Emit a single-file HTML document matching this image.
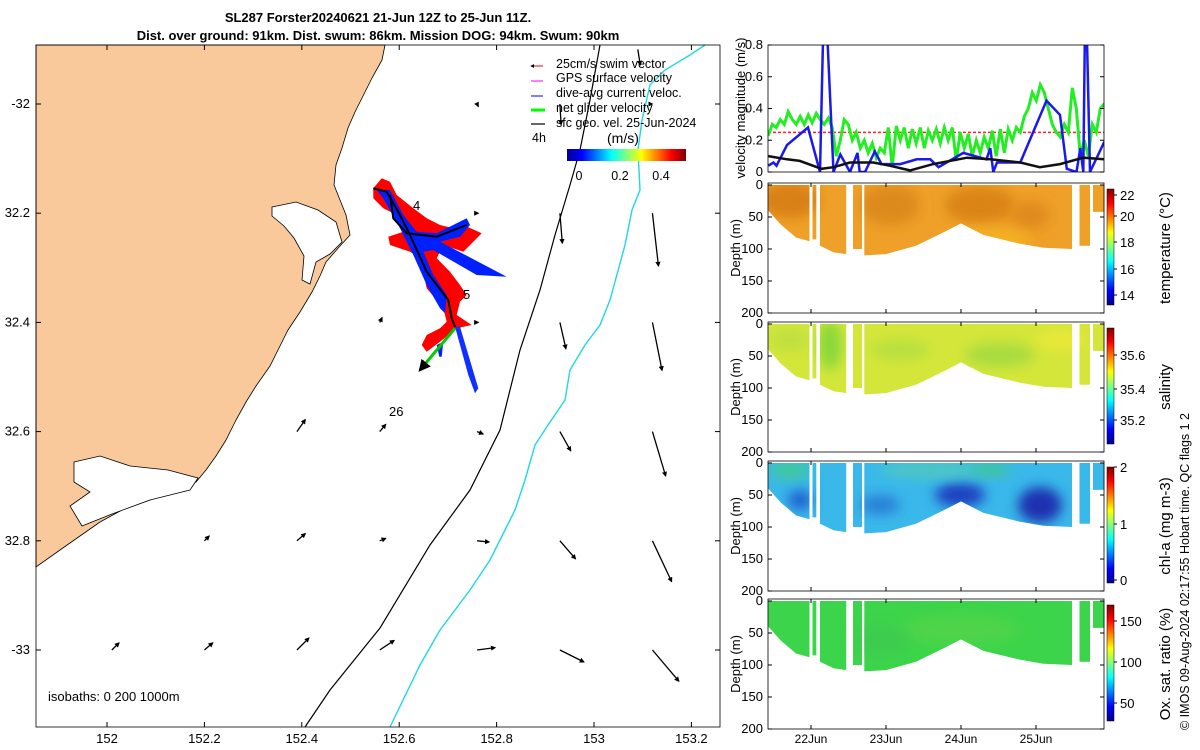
<!DOCTYPE html>
<html><head><meta charset="utf-8">
<style>
body{margin:0;background:#fff;}
svg{display:block;font-family:"Liberation Sans",sans-serif;}
</style></head>
<body>
<svg id="s" width="1200" height="750" viewBox="0 0 1200 750" xmlns="http://www.w3.org/2000/svg">
<defs>
<linearGradient id="jetH" x1="0" x2="1" y1="0" y2="0">
<stop offset="0" stop-color="#00008f"/><stop offset="0.125" stop-color="#0000ff"/><stop offset="0.375" stop-color="#00ffff"/><stop offset="0.5" stop-color="#80ff80"/><stop offset="0.625" stop-color="#ffff00"/><stop offset="0.875" stop-color="#ff0000"/><stop offset="1" stop-color="#800000"/>
</linearGradient>
<linearGradient id="jetV" x1="0" x2="0" y1="1" y2="0">
<stop offset="0" stop-color="#00008f"/><stop offset="0.125" stop-color="#0000ff"/><stop offset="0.375" stop-color="#00ffff"/><stop offset="0.5" stop-color="#80ff80"/><stop offset="0.625" stop-color="#ffff00"/><stop offset="0.875" stop-color="#ff0000"/><stop offset="1" stop-color="#800000"/>
</linearGradient>
<filter id="blur" x="-50%" y="-50%" width="200%" height="200%"><feGaussianBlur stdDeviation="6"/></filter>
<marker id="ah" viewBox="0 0 10 10" refX="8" refY="5" markerWidth="4" markerHeight="4" orient="auto"><path d="M0,0L10,5L0,10z" fill="#000"/></marker>
<clipPath id="mapclip"><rect x="36" y="45" width="684" height="682"/></clipPath>
</defs>

<text x="378" y="22" text-anchor="middle" font-size="13" font-weight="bold">SL287 Forster20240621 21-Jun 12Z to 25-Jun 11Z.</text>
<text x="378" y="40" text-anchor="middle" font-size="13" font-weight="bold">Dist. over ground: 91km. Dist. swum: 86km. Mission DOG: 94km. Swum: 90km</text>

<g id="map">
<rect x="36" y="45" width="684" height="682" fill="#fff"/>
<polygon fill="#f9c99b" stroke="#000" stroke-width="0.8" points="36,45 385,45 382,60 372,78 362,98 355,112 348,128 342,148 336,165 334,185 340,200 346,215 350,235 340,246 326,262 320,276 312,292 300,312 288,330 280,346 270,366 256,386 246,402 236,420 226,440 216,456 206,470 196,482 172,490 150,500 122,510 100,522 80,536 60,550 36,567"/>
<polygon fill="#fff" stroke="#000" stroke-width="0.8" points="272,207 296,202 318,210 336,222 342,242 330,254 316,262 310,284 302,280 304,256 294,238 284,226 272,216"/>
<polygon fill="#fff" stroke="#000" stroke-width="0.8" points="74,462 100,456 130,466 168,470 198,478 190,490 150,500 112,514 82,526 70,506 90,492 74,482"/>
<polyline fill="none" stroke="#000" stroke-width="1.2" points="305,727 330,690 380,628 430,545 470,490 500,430 520,350 540,290 555,235 570,185 580,150 590,100 600,45"/>
<polyline fill="none" stroke="#1fd8e0" stroke-width="1.4" points="390,727 420,665 440,630 470,590 490,560 500,540 515,510 525,480 535,445 548,425 565,400 570,370 585,345 600,325 610,300 625,245 632,210 640,190 638,150 642,120 650,85 665,70 690,55 705,45"/>
<g id="glider"></g>
<g id="arrows" clip-path="url(#mapclip)"></g>
<text x="413" y="210" font-size="13">4</text>
<text x="463" y="299" font-size="13">5</text>
<text x="389" y="416" font-size="13">26</text>
<text x="48" y="701" font-size="13">isobaths: 0   200  1000m</text>
<rect x="36" y="45" width="684" height="682" fill="none" stroke="#000" stroke-width="0.8"/>
<g id="maplegend" font-size="12.5">
<line x1="543" y1="66" x2="531" y2="66" stroke="#f00" marker-end="url(#ah)"/>
<text x="556" y="68">25cm/s swim vector</text>
<line x1="543" y1="81" x2="531" y2="81" stroke="#f0f"/>
<text x="556" y="82">GPS surface velocity</text>
<line x1="543" y1="96" x2="531" y2="96" stroke="#00f"/>
<text x="556" y="97">dive-avg current veloc.</text>
<line x1="545" y1="110" x2="531" y2="110" stroke="#0f0" stroke-width="3"/>
<text x="556" y="112">net glider velocity</text>
<line x1="545" y1="124" x2="531" y2="124" stroke="#000" stroke-width="1.2"/>
<text x="556" y="127">sfc geo. vel. 25-Jun-2024</text>
<text x="532" y="142">4h</text>
<text x="607" y="143" font-size="14">(m/s)</text>
<rect x="567" y="149" width="119" height="12" fill="url(#jetH)"/>
<text x="579" y="180" text-anchor="middle">0</text>
<text x="620" y="180" text-anchor="middle">0.2</text>
<text x="661" y="180" text-anchor="middle">0.4</text>
</g>
<g id="mapticks" font-size="13"></g>
</g>

<g id="right"></g>

<text transform="translate(1189,730) rotate(-90)" font-size="12.5">© IMOS 09-Aug-2024 02:17:55 Hobart time. QC flags 1  2</text>
</svg>
<script>
// ---- velocity series data ----
const greenStart = 21.43, greenEnd = 25.91;
const greenVals = [0.23,0.3,0.28,0.33,0.3,0.38,0.33,0.3,0.35,0.3,0.36,0.31,0.37,0.33,0.3,0.34,0.28,0.1,0.2,0.33,0.3,0.2,0.25,0.15,0.2,0.12,0.18,0.09,0.15,0.12,0.28,0.03,0.29,0.2,0.28,0.15,0.27,0.18,0.28,0.15,0.26,0.2,0.27,0.18,0.28,0.2,0.28,0.07,0.25,0.15,0.24,0.1,0.2,0.12,0.22,0.15,0.26,0.1,0.27,0.12,0.27,0.2,0.28,0.25,0.35,0.4,0.5,0.45,0.55,0.5,0.4,0.3,0.25,0.22,0.3,0.25,0.53,0.4,0.1,0.2,0.1,0.3,0.25,0.4,0.43];
const blueTimes = [21.43,21.50,21.54,21.68,21.96,22.12,22.16,22.22,22.30,22.39,22.52,22.62,22.65,22.72,22.85,22.94,23.19,23.41,23.59,23.70,24.03,24.34,24.39,24.43,24.48,24.79,25.14,25.32,25.41,25.54,25.59,25.63,25.65,25.68,25.72,25.91];
const blueVals  = [0.04,0.06,0.04,0.17,0.28,0,0.9,0.9,0,0.11,0,0.12,0,0,0.13,0.05,0.05,0.08,0.08,0.03,0.12,0.08,0.15,0,0.06,0.06,0.45,0.36,0.02,0,0.15,0,0.9,0.9,0,0.19];
const blackTimes = [21.43,21.68,21.85,22.14,22.30,22.52,22.83,23.05,23.32,23.63,24.08,24.39,24.79,25.05,25.32,25.63,25.91];
const blackVals  = [0.1,0.08,0.07,0.02,0.03,0.06,0.06,0.04,0.01,0.05,0.09,0.08,0.06,0.03,0.05,0.09,0.08];
const swimTarget = 0.25;
const velTicks = [0,0.2,0.4,0.6,0.8];
const dayTicks = [22,23,24,25];
const dayLabels = ["22Jun","23Jun","24Jun","25Jun"];
// bottom depth of sampled profiles: segments [time, depth]
const profSegs = [
 [[21.43,40],[21.6,62],[21.8,82],[21.98,88]],
 [[22.02,85],[22.07,85]],
 [[22.12,95],[22.30,105],[22.47,108]],
 [[22.56,100],[22.68,100]],
 [[22.71,110],[23.0,108],[23.4,95],[23.8,72],[24.0,60],[24.3,78],[24.8,92],[25.1,98],[25.48,100]],
 [[25.58,95],[25.72,95]],
 [[25.76,42],[25.91,42]]
];
const mapLatTicks = [-32,-32.2,-32.4,-32.6,-32.8,-33];
const mapLatLabels = ["-32","32.2","32.4","32.6","32.8","-33"];
const mapLonTicks = [152,152.2,152.4,152.6,152.8,153,153.2];
// geostrophic arrows: lon, lat, u, v (m/s)
const geoLon = [152.01,152.2,152.39,152.56,152.76,152.93,153.12, 152.2,152.39,152.56,152.76,152.93,153.12, 152.39,152.56,152.76,152.93,153.12, 152.56,152.76,152.93,153.12, 152.76,152.93,153.12, 152.76,152.93,153.12,153.09];
const geoLat = [-33.0,-33.0,-33.0,-33.0,-33.0,-33.0,-33.0, -32.8,-32.8,-32.8,-32.8,-32.8,-32.8, -32.6,-32.6,-32.6,-32.6,-32.6, -32.4,-32.4,-32.4,-32.4, -32.2,-32.2,-32.2, -32.0,-32.0,-32.0,-31.9];
const geoU = [0.06,0.07,0.1,0.12,0.15,0.2,0.22, 0.04,0.07,0.05,0.1,0.13,0.16, 0.07,0.05,0.05,0.09,0.11, 0.02,0.01,0.05,0.08, 0.01,0.02,0.05, 0.01,0.01,0.0,0.02];
const geoV = [0.06,0.06,0.1,0.08,0.02,-0.1,-0.26, 0.04,0.06,0.02,-0.01,-0.15,-0.34, 0.1,0.06,-0.02,-0.16,-0.37, 0.04,0.0,-0.22,-0.4, 0.0,-0.25,-0.44, -0.02,-0.17,0,-0.13];

const NS='http://www.w3.org/2000/svg';
function mk(tag,attrs,parent){const e=document.createElementNS(NS,tag);for(const k in attrs)e.setAttribute(k,attrs[k]);(parent||document.getElementById('s')).appendChild(e);return e;}
const lonX = lon => 107 + (lon-152)*487;
const latY = lat => 104 + (-32-lat)*546;
const mt = document.getElementById('mapticks');
mapLatTicks.forEach((v,i)=>{
 const y=latY(v);
 const t=mk('text',{x:30,y:y+4,'text-anchor':'end'},mt);t.textContent=mapLatLabels[i];
 
 
 mk('line',{x1:36,x2:41,y1:y,y2:y,stroke:'#000'},mt);
 mk('line',{x1:715,x2:720,y1:y,y2:y,stroke:'#000'},mt);
});
mapLonTicks.forEach(v=>{
 const x=lonX(v);
 const t=mk('text',{x:x,y:743,'text-anchor':'middle'},mt);t.textContent=String(v);
 
 
 mk('line',{x1:x,x2:x,y1:727,y2:722,stroke:'#000'},mt);
 mk('line',{x1:x,x2:x,y1:45,y2:50,stroke:'#000'},mt);
});
const ar=document.getElementById('arrows');
const aScale=120;
geoLon.forEach((lon,i)=>{
 const x=lonX(lon), y=latY(geoLat[i]);
 const dx=geoU[i]*aScale, dy=-geoV[i]*aScale;
 const l=mk('line',{x1:x,y1:y,x2:x+dx,y2:y+dy,stroke:'#000','stroke-width':1.3,'marker-end':'url(#ah)'},ar);
 
 
});
const g=document.getElementById('glider');
const Z=pts=>pts.map(p=>(360+p[0]/3).toFixed(1)+','+(175+p[1]/3).toFixed(1)).join(' ');
let e;
e=mk('polygon',{points:Z([[65,10],[90,20],[110,60],[160,100],[200,130],[240,150],[280,160],[310,150],[365,175],[340,200],[310,230],[250,210],[230,250],[270,290],[300,330],[320,360],[300,380],[290,420],[335,450],[290,460],[240,500],[200,530],[185,510],[200,480],[240,460],[260,440],[250,400],[200,340],[180,250],[150,230],[90,210],[85,185],[130,170],[110,120],[70,100],[40,70],[40,40]]),fill:'#f00'},g);


e=mk('polygon',{points:Z([[50,45],[90,45],[130,120],[170,170],[230,175],[320,130],[330,150],[300,185],[240,200],[440,305],[350,300],[220,225],[190,230],[220,300],[260,360],[255,415],[240,400],[200,330],[160,240],[120,160],[70,70]]),fill:'#0020ff'},g);


e=mk('polygon',{points:Z([[230,510],[250,500],[245,545],[238,545]]),fill:'#0020ff'},g);


e=mk('polygon',{points:Z([[285,455],[300,455],[355,640],[345,655],[325,600]]),fill:'#1030ff'},g);


e=mk('line',{x1:360+285/3,y1:175+460/3,x2:360+180/3,y2:175+585/3,stroke:'#0c0','stroke-width':3,'marker-end':'url(#ah)'},g);


e=mk('polyline',{points:Z([[40,40],[80,50],[120,120],[150,180],[200,290],[265,375],[275,430],[285,455]]),fill:'none',stroke:'#000','stroke-width':2},g);


e=mk('polyline',{points:Z([[90,60],[100,130],[140,175],[230,185],[320,150]]),fill:'none',stroke:'#000','stroke-width':2},g);



// ---- right panels ----
const R=document.getElementById('right');
const X0=768,X1=1104;
const tX=t=>811+(t-22)*75;
const vTop=45,vBot=172;
const vY=v=>vBot-(Math.min(v,0.83))/0.8*(vBot-vTop);
mk('defs',{},R).innerHTML='<clipPath id="vclip"><rect x="768" y="45" width="336" height="127"/></clipPath>';
const vg=mk('g',{'clip-path':'url(#vclip)'},R);


e=mk('line',{x1:X0,x2:X1,y1:vY(swimTarget),y2:vY(swimTarget),stroke:'#f22','stroke-width':1.5,'stroke-dasharray':'3,2'},vg);


const gp=greenVals.map((v,i)=>tX(greenStart+(greenEnd-greenStart)*i/(greenVals.length-1)).toFixed(1)+','+vY(v).toFixed(1)).join(' ');
e=mk('polyline',{points:gp,fill:'none',stroke:'#22ee22','stroke-width':3},vg);


e=mk('polyline',{points:blueTimes.map((t,i)=>tX(t).toFixed(1)+','+vY(blueVals[i]).toFixed(1)).join(' '),fill:'none',stroke:'#1a1aee','stroke-width':2.5},vg);


e=mk('polyline',{points:blackTimes.map((t,i)=>tX(t).toFixed(1)+','+vY(blackVals[i]).toFixed(1)).join(' '),fill:'none',stroke:'#111','stroke-width':2.5},vg);


e=mk('rect',{x:X0,y:vTop,width:X1-X0,height:vBot-vTop,fill:'none',stroke:'#000','stroke-width':0.8},R);


velTicks.forEach(v=>{
 const y=vY(v);
 const t=mk('text',{x:763,y:y+4,'text-anchor':'end','font-size':13},R);t.textContent=v===0?'0':String(v);
 
 
 mk('line',{x1:X0,x2:X0+4,y1:y,y2:y,stroke:'#000'},R);
 mk('line',{x1:X1-4,x2:X1,y1:y,y2:y,stroke:'#000'},R);
});
e=mk('text',{transform:'translate(745,108) rotate(-90)','text-anchor':'middle','font-size':13},R);e.textContent='velocity magnitude (m/s)';



const panels=[
 {top:183,name:'temperature',base:'#eea028',blobs:[[790,200,30,18,'#d98018'],[890,205,30,20,'#dd8a1c'],[980,205,35,18,'#da8418'],[1030,215,20,14,'#e08a1e'],[990,240,40,12,'#f4b020']],cbTicks:[[22,195],[20,216],[18,242],[16,269],[14,295]],label:'temperature (°C)'},
 {top:322,name:'salinity',base:'#d4e63a',blobs:[[830,345,12,25,'#8ad83a'],[900,350,30,10,'#b8e040'],[1000,355,35,12,'#a8dc40'],[1060,340,25,10,'#e8e838'],[790,340,20,12,'#c0e040']],cbTicks:[['35.6',355],['35.4',389],['35.2',420]],label:'salinity'},
 {top:461,name:'chl-a',base:'#3ab8ea',blobs:[[790,470,20,10,'#40c8a0'],[800,500,12,10,'#2060d0'],[960,495,25,12,'#1a40c0'],[1040,505,22,18,'#1a30b0'],[930,470,50,8,'#50c8c0'],[880,505,20,10,'#2a80d8'],[990,470,20,6,'#40c890']],cbTicks:[['2',467],['1',524],['0',580]],label:'chl-a (mg m-3)'},
 {top:599,name:'oxygen',base:'#3cd44a',blobs:[[960,630,60,15,'#50d448'],[880,640,30,15,'#3ccc50']],cbTicks:[['150',621],['100',662],['50',703]],label:'Ox. sat. ratio (%)'}
];
panels.forEach((p,pi)=>{
 const H=130, dY=d=>p.top+2+d/200*(H-2);
 const pg=mk('g',{},R);
 
 
 let path='';
 profSegs.forEach(seg=>{
  const t0=seg[0][0], t1=seg[seg.length-1][0];
  path+='M'+tX(t0).toFixed(1)+','+dY(0).toFixed(1);
  seg.forEach(q=>path+=' L'+tX(q[0]).toFixed(1)+','+dY(q[1]).toFixed(1));
  path+=' L'+tX(t1).toFixed(1)+','+dY(0).toFixed(1)+'Z ';
 });
 const cp=mk('clipPath',{id:'cp'+pi},pg);
 mk('path',{d:path},cp);
 e=mk('path',{d:path,fill:p.base},pg);
 
 
 const bg=mk('g',{'clip-path':'url(#cp'+pi+')'},pg);
 p.blobs.forEach(b=>mk('ellipse',{cx:b[0],cy:b[1],rx:b[2],ry:b[3],fill:b[4],filter:'url(#blur)'},bg));
 e=mk('rect',{x:X0,y:p.top,width:X1-X0,height:H,fill:'none',stroke:'#000','stroke-width':0.8},pg);
 
 
 [0,50,100,150,200].forEach(d=>{
  const y=dY(d);
  const t=mk('text',{x:763,y:y+4,'text-anchor':'end','font-size':13},pg);t.textContent=String(d);
  
  
  mk('line',{x1:X0,x2:X0+4,y1:y,y2:y,stroke:'#000'},pg);
  mk('line',{x1:X1-4,x2:X1,y1:y,y2:y,stroke:'#000'},pg);
 });
 dayTicks.forEach(d=>{
  mk('line',{x1:tX(d),x2:tX(d),y1:p.top+H,y2:p.top+H-4,stroke:'#000'},pg);
  mk('line',{x1:tX(d),x2:tX(d),y1:p.top,y2:p.top+4,stroke:'#000'},pg);
 });
 e=mk('text',{transform:'translate(740,'+(p.top+H/2)+') rotate(-90)','text-anchor':'middle','font-size':13},pg);e.textContent='Depth (m)';
 
 
 e=mk('rect',{x:1107,y:p.top+6,width:7,height:H-14,fill:'url(#jetV)',stroke:'#000','stroke-width':0.5},pg);
 
 
 p.cbTicks.forEach(c=>{
  mk('line',{x1:1114,x2:1117,y1:c[1],y2:c[1],stroke:'#000'},pg);
  const t=mk('text',{x:1120,y:c[1]+5,'font-size':13},pg);t.textContent=String(c[0]);
  
  
 });
 e=mk('text',{transform:'translate(1170,'+(p.top+H/2)+') rotate(-90)','text-anchor':'middle','font-size':15},pg);e.textContent=p.label;
 
 
});
dayTicks.forEach((d,i)=>{
 const t=mk('text',{x:tX(d),y:743,'text-anchor':'middle','font-size':12},R);t.textContent=dayLabels[i];
 
 
});
</script>
</body></html>
